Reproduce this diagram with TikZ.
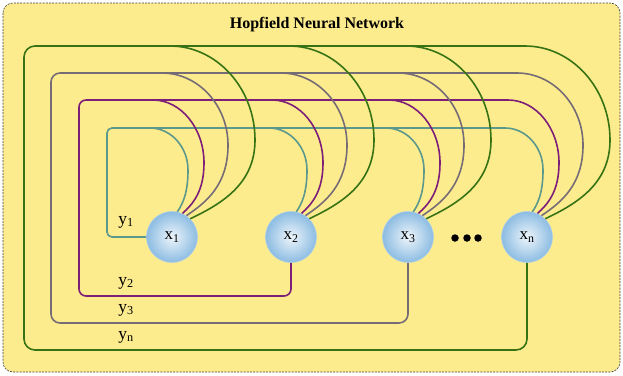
\documentclass[tikz,border=0pt]{standalone}
\usepackage{fontspec}
\setmainfont{Liberation Serif}
\definecolor{bgyellow}{RGB}{253,236,142}
\definecolor{cteal}{RGB}{92,152,140}
\definecolor{cpurple}{RGB}{125,30,120}
\definecolor{cgray}{RGB}{118,108,118}
\definecolor{cgreen}{RGB}{55,115,20}
\definecolor{nodeblue}{RGB}{140,188,226}
\begin{document}
\begin{tikzpicture}[x=1pt,y=-1pt,
  neuron/.style={circle,minimum size=51pt,inner sep=0pt,inner color=white!85!nodeblue,outer color=nodeblue,draw=nodeblue!70!white,line width=0.6pt,font=\fontsize{17}{19}\selectfont},
  wire/.style={line width=1.6pt},
  lbl/.style={font=\fontsize{17.5}{19}\selectfont,inner sep=0pt},
  dot/.style={circle,fill=black,inner sep=0pt,minimum size=7.5pt}]
\useasboundingbox (0,0) rectangle (623,375);
\draw[rounded corners=10pt,fill=bgyellow,draw=black!75,line width=0.6pt,dash pattern=on 2pt off 1.2pt] (3,3) rectangle (620,372);
\node[font=\bfseries\fontsize{16}{19}\selectfont] (title) at (317,25) {Hopfield Neural Network};
\node[neuron] (x1) at (172,237) {x\textsubscript{1}};
\node[neuron] (x2) at (291,237) {x\textsubscript{2}};
\node[neuron] (x3) at (408,237) {x\textsubscript{3}};
\node[neuron] (xn) at (527,237) {x\textsubscript{n}};
\node[dot] (d1) at (455,238) {};
\node[dot] (d2) at (467,238) {};
\node[dot] (d3) at (478,238) {};
% main feedback lines
\draw[wire,cteal,rounded corners=5pt] (x1.west) -- (107,237) -- (107,128) -- (505,128);
\draw[wire,cpurple,rounded corners=7pt] (x2.south) -- (291,296) -- (79,296) -- (79,100) -- (508,100);
\draw[wire,cgray,rounded corners=9pt] (x3.south) -- (408,323) -- (51,323) -- (51,73) -- (517,73);
\draw[wire,cgreen,rounded corners=11pt] (xn.south) -- (527,350) -- (24,350) -- (24,46) -- (525,46);
% arcs into each neuron
\foreach \n/\cx in {x1/172,x2/291,x3/408,xn/527}{
  \foreach \col/\h/\s/\m/\ym/\ang in {cteal/128/-22/16/170/78,cpurple/100/-19/32/163/66,cgray/73/-10/56/145/56,cgreen/46/-2/83/140/45}{
    \pgfmathsetmacro\sx{\cx+\s}
    \pgfmathsetmacro\mx{\cx+\m}
    \pgfmathsetmacro\ax{\sx+0.55*(\m-\s)}
    \pgfmathsetmacro\by{\ym-0.55*(\ym-\h)}
    \pgfmathsetmacro\ex{\cx+25*cos(\ang)}
    \pgfmathsetmacro\ey{237-25*sin(\ang)}
    \pgfmathsetmacro\cy{\ym+0.55*(\ey-\ym)}
    \pgfmathsetmacro\dx{\ex+0.5*(\mx-\ex)}
    \pgfmathsetmacro\dy{\ey-0.2*(\ey-\ym)}
    \draw[wire,\col] (\sx,\h) .. controls (\ax,\h) and (\mx,\by) .. (\mx,\ym)
      .. controls (\mx,\cy) and (\dx,\dy) .. (\n.\ang);
  }
}
\node[lbl] (ly1) at (126,222) {y\textsubscript{1}};
\node[lbl] (ly2) at (126,283) {y\textsubscript{2}};
\node[lbl] (ly3) at (126,310) {y\textsubscript{3}};
\node[lbl] (lyn) at (126,337) {y\textsubscript{n}};
\end{tikzpicture}
\end{document}
